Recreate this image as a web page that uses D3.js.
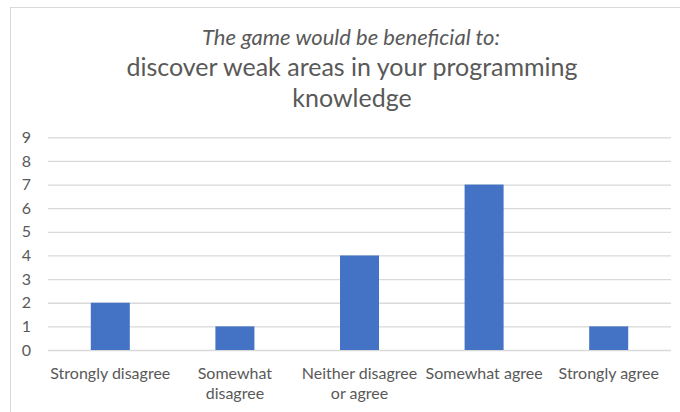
<!DOCTYPE html>
<html>
<head>
<meta charset="utf-8">
<script src="https://cdn.jsdelivr.net/npm/d3@7/dist/d3.min.js"></script>
<style>
  html, body { margin: 0; padding: 0; background: #fff; }
  svg { display: block; font-family: Lato, "Open Sans", sans-serif; }
</style>
</head>
<body>
<svg id="chart" width="680" height="412"></svg>
<script>
// Survey responses
const categories = [
  ["Strongly disagree"],
  ["Somewhat", "disagree"],
  ["Neither disagree", "or agree"],
  ["Somewhat agree"],
  ["Strongly agree"]
];
const counts = [2, 1, 4, 7, 1];
const yTicks = [0, 1, 2, 3, 4, 5, 6, 7, 8, 9];
const titleLines = ["discover weak areas in your programming", "knowledge"];
const subtitle = "The game would be beneficial to:";

const svg = d3.select("#chart");
const W = 680, H = 412;
const textColor = "#595959";
const gridColor = "#d9d9d9";
const barColor = "#4472c4";

// chart area frame
svg.append("rect")
  .attr("x", 10.5).attr("y", 7.5)
  .attr("width", W).attr("height", H)
  .attr("fill", "none").attr("stroke", gridColor).attr("stroke-width", 1);

const plot = { left: 48, right: 671, top: 137.3, bottom: 350 };

const x = d3.scaleBand()
  .domain(d3.range(categories.length))
  .range([plot.left, plot.right])
  .paddingInner(0.687)
  .paddingOuter(0.3435);

const y = d3.scaleLinear()
  .domain([0, 9])
  .range([plot.bottom, plot.top]);

// titles
svg.append("text")
  .attr("x", 351).attr("y", 44.5)
  .attr("text-anchor", "middle")
  .attr("font-style", "italic")
  .attr("font-size", 22)
  .attr("fill", textColor)
  .text(subtitle);

svg.append("g").selectAll("text")
  .data(titleLines)
  .join("text")
  .attr("x", 352)
  .attr("y", (d, i) => 76 + i * 31)
  .attr("text-anchor", "middle")
  .attr("font-size", 25)
  .attr("fill", textColor)
  .text(d => d);

// gridlines
const yAxis = d3.axisLeft(y)
  .tickValues(yTicks)
  .tickSize(-(plot.right - plot.left))
  .tickPadding(17)
  .tickFormat(d3.format("d"));

const gy = svg.append("g")
  .attr("transform", `translate(${plot.left},0)`)
  .call(yAxis);
gy.select(".domain").remove();
gy.selectAll(".tick line").attr("stroke", gridColor).attr("stroke-width", 1.3);
gy.selectAll(".tick text")
  .attr("fill", textColor)
  .attr("font-size", 16)
  .attr("font-family", "Lato, sans-serif");

// bars
svg.append("g").selectAll("rect")
  .data(counts)
  .join("rect")
  .attr("x", (d, i) => x(i))
  .attr("y", d => y(d))
  .attr("width", x.bandwidth())
  .attr("height", d => y(0) - y(d))
  .attr("fill", barColor);

// category labels
const xl = svg.append("g").selectAll("text")
  .data(categories)
  .join("text")
  .attr("x", (d, i) => x(i) + x.bandwidth() / 2)
  .attr("y", 378.5)
  .attr("text-anchor", "middle")
  .attr("font-size", 16)
  .attr("fill", textColor);
xl.selectAll("tspan")
  .data(d => d)
  .join("tspan")
  .attr("x", function () { return d3.select(this.parentNode).attr("x"); })
  .attr("dy", (d, i) => i === 0 ? 0 : 20)
  .text(d => d);
</script>
</body>
</html>
